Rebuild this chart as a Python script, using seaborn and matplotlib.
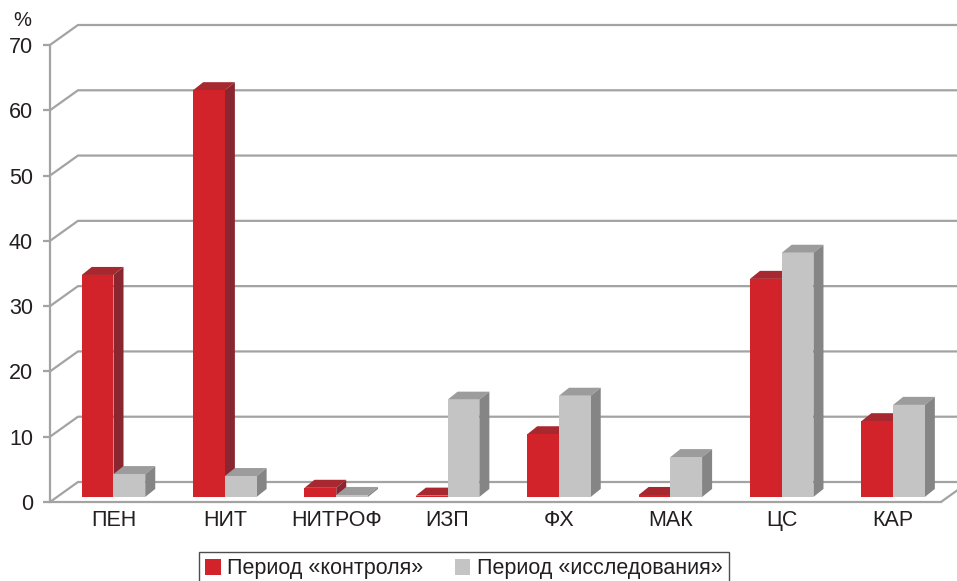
import numpy as np
import pandas as pd
import seaborn as sns
import matplotlib.pyplot as plt
from matplotlib.patches import Polygon

# Data
categories = ["ПЕН", "НИТ", "НИТРОФ", "ИЗП", "ФХ", "МАК", "ЦС", "КАР"]
periods = ["Период «контроля»", "Период «исследования»"]
control = [34.0, 62.3, 1.4, 0.2, 9.6, 0.3, 33.4, 11.6]
study = [3.5, 3.2, 0.3, 14.9, 15.5, 6.1, 37.4, 14.1]
y_ticks = [0, 10, 20, 30, 40, 50, 60, 70]

df = pd.DataFrame({
    "category": categories * 2,
    "period": [periods[0]] * len(categories) + [periods[1]] * len(categories),
    "value": control + study,
})

# Colours of the three visible faces of each box
FRONT = ["#d2232a", "#c4c4c4"]
TOP = ["#a8282f", "#9c9c9c"]
SIDE = ["#8a2630", "#858585"]
GRID = "#a3a3a3"
TEXT = "#231f20"
FS = 15.5

# Pseudo-3D geometry (data units)
DX, DY = 0.251, 3.06      # depth of the chart box (wall offset)
SX, SY = 0.07, 0.77       # bars sit a little behind the front edge
BDX, BDY = 0.09, 1.23     # depth of each bar

sns.set_theme(style="white")
plt.rcParams["font.family"] = ["Liberation Sans", "DejaVu Sans"]

fig = plt.figure(figsize=(9.57, 5.81), dpi=100)
fig.patch.set_facecolor("white")
ax = fig.add_axes([0.05225, 0.1360, 0.931, 0.7866])
ax.set_facecolor("none")

sns.barplot(data=df, x="category", y="value", hue="period",
            order=categories, hue_order=periods, palette=FRONT,
            saturation=1, width=0.57, errorbar=None, linewidth=0, ax=ax)

# Turn the flat bars into boxes: shift the front face, add top and side faces
for h, container in enumerate(ax.containers):
    for bar in container:
        x, y0 = bar.get_x() + SX, bar.get_y() + SY
        w, hgt = bar.get_width(), bar.get_height()
        i = int(round(bar.get_x() + w))
        z = 3 + i + 0.5 * h
        bar.set_x(x)
        bar.set_y(y0)
        bar.set_zorder(z + 0.1)
        bar.set_clip_on(False)
        yt = y0 + hgt
        top = Polygon([(x, yt), (x + w, yt), (x + w + BDX, yt + BDY), (x + BDX, yt + BDY)],
                      closed=True, facecolor=TOP[h], edgecolor="none", zorder=z, clip_on=False)
        side = Polygon([(x + w, y0), (x + w + BDX, y0 + BDY), (x + w + BDX, yt + BDY), (x + w, yt)],
                       closed=True, facecolor=SIDE[h], edgecolor="none", zorder=z, clip_on=False)
        ax.add_patch(top)
        ax.add_patch(side)

# Back wall gridlines with their diagonal links to the front axis
for v in y_ticks:
    ax.plot([-0.5, -0.5 + DX, 8.5], [v, v + DY, v + DY], color=GRID, lw=1.6,
            solid_capstyle="butt", clip_on=False, zorder=1)
# Right edge of the floor
ax.plot([7.5, 7.5 + DX], [0, DY], color=GRID, lw=1.6, clip_on=False, zorder=1)

ax.set_xlim(-0.5, 7.5)
ax.set_ylim(0, 70)
ax.set_yticks(y_ticks)
ax.set_xticks(np.arange(len(categories)) + SX)
ax.set_xticklabels(categories)
ax.set_xlabel("")
ax.set_ylabel("")

for s in ["top", "right"]:
    ax.spines[s].set_visible(False)
for s in ["left", "bottom"]:
    ax.spines[s].set_color(GRID)
    ax.spines[s].set_linewidth(1.6)
    ax.spines[s].set_zorder(1)

ax.tick_params(axis="y", left=True, length=5.2, width=1.6, color=GRID, pad=7,
               labelsize=FS, labelcolor=TEXT)
ax.tick_params(axis="x", bottom=False, length=0, pad=6, labelsize=FS, labelcolor=TEXT)

fig.text(22 / 957, 1 - 21 / 581, "%", ha="center", va="center", fontsize=14.5, color=TEXT)

sns.move_legend(ax, loc="upper center", bbox_to_anchor=(464 / 957, 1 - 552 / 581),
                bbox_transform=fig.transFigure, ncol=2, title=None, frameon=True,
                fancybox=False, framealpha=1, edgecolor="#4d4d4d", fontsize=FS,
                handlelength=0.7, handleheight=0.8, handletextpad=0.3,
                columnspacing=1.5, borderpad=0.3, borderaxespad=0)
leg = ax.get_legend()
leg.get_frame().set_linewidth(1.0)
for t in leg.get_texts():
    t.set_color(TEXT)

fig.savefig("out.png", dpi=100, facecolor="white")
